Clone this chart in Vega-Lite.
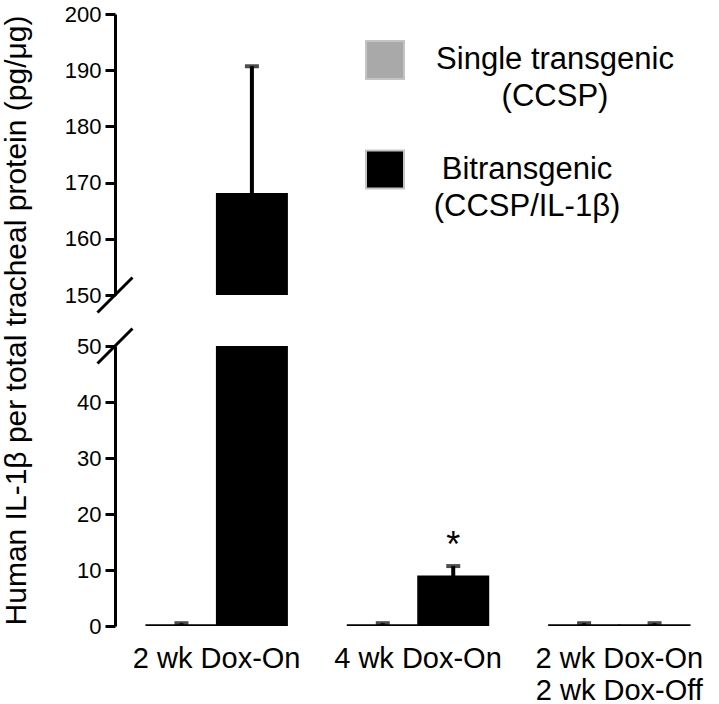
{
  "$schema": "https://vega.github.io/schema/vega-lite/v6.json",
  "padding": {"left": 0, "top": 3, "right": 0, "bottom": 0},
  "datasets": {
    "bars": [
      {"group": "2 wk Dox-On", "genotype": "Single transgenic (CCSP)", "value": 0.2, "upper": 0.5},
      {"group": "2 wk Dox-On", "genotype": "Bitransgenic (CCSP/IL-1β)", "value": 168, "upper": 190.7},
      {"group": "4 wk Dox-On", "genotype": "Single transgenic (CCSP)", "value": 0.2, "upper": 0.5},
      {"group": "4 wk Dox-On", "genotype": "Bitransgenic (CCSP/IL-1β)", "value": 8.9, "upper": 10.7, "sig": "*"},
      {"group": "2 wk Dox-On / 2 wk Dox-Off", "genotype": "Single transgenic (CCSP)", "value": 0.2, "upper": 0.5},
      {"group": "2 wk Dox-On / 2 wk Dox-Off", "genotype": "Bitransgenic (CCSP/IL-1β)", "value": 0.2, "upper": 0.5}
    ]
  },
  "bounds": "flush",
  "spacing": 51,
  "resolve": {"scale": {"y": "independent", "color": "independent"}, "legend": {"color": "independent"}},
  "vconcat": [
    {
      "width": 606,
      "height": 281,
      "layer": [
        {
          "data": {"name": "bars"},
          "mark": {"type": "bar", "clip": true, "stroke": "black", "strokeWidth": 1.5},
          "encoding": {
            "x": {"field": "group", "type": "nominal", "sort": ["2 wk Dox-On", "4 wk Dox-On", "2 wk Dox-On / 2 wk Dox-Off"], "scale": {"paddingInner": 0.3, "paddingOuter": 0.155}, "axis": null},
            "xOffset": {"field": "genotype", "type": "nominal", "sort": ["Single transgenic (CCSP)", "Bitransgenic (CCSP/IL-1β)"], "scale": {"paddingInner": 0, "paddingOuter": 0}},
            "y": {"field": "value", "type": "quantitative", "scale": {"domain": [150, 200], "nice": false, "zero": false}, "axis": {"title": null, "values": [150, 160, 170, 180, 190, 200]}},
            "color": {
              "field": "genotype", "type": "nominal",
              "scale": {"domain": ["Single transgenic (CCSP)", "Bitransgenic (CCSP/IL-1β)"], "range": ["#a9a9a9", "#000000"]},
              "legend": {
                "title": null,
                "orient": "none",
                "legendX": 250,
                "legendY": 26,
                "symbolType": "square",
                "symbolSize": 1444,
                "symbolStrokeColor": "#c4c4c4",
                "symbolStrokeWidth": 2,
                "labelFontSize": 31,
                "labelFont": "Liberation Sans",
                "labelColor": "black",
                "labelAlign": "center",
                "labelOffset": 136,
                "labelLimit": 0,
                "rowPadding": 34.5,
                "labelExpr": "split(replace(datum.label, ' (', '\\n('), '\\n')",
                "encode": {
                  "labels": {"update": {"dx": {"signal": "datum.value == 'Single transgenic (CCSP)' ? 14 : -14"}, "lineHeight": {"value": 37}}},
                  "symbols": {"update": {"stroke": {"value": "#c4c4c4"}, "strokeWidth": {"value": 2}}}
                }
              }
            }
          }
        },
        {
          "data": {"name": "bars"},
          "mark": {"type": "rule", "clip": true, "strokeWidth": 4, "color": "black"},
          "encoding": {
            "x": {"field": "group", "type": "nominal", "sort": ["2 wk Dox-On", "4 wk Dox-On", "2 wk Dox-On / 2 wk Dox-Off"]},
            "xOffset": {"field": "genotype", "type": "nominal", "sort": ["Single transgenic (CCSP)", "Bitransgenic (CCSP/IL-1β)"]},
            "y": {"field": "value", "type": "quantitative"},
            "y2": {"field": "upper"}
          }
        },
        {
          "data": {"name": "bars"},
          "mark": {"type": "tick", "clip": true, "orient": "horizontal", "size": 14, "thickness": 4, "color": "black"},
          "encoding": {
            "x": {"field": "group", "type": "nominal", "sort": ["2 wk Dox-On", "4 wk Dox-On", "2 wk Dox-On / 2 wk Dox-Off"]},
            "xOffset": {"field": "genotype", "type": "nominal", "sort": ["Single transgenic (CCSP)", "Bitransgenic (CCSP/IL-1β)"]},
            "y": {"field": "upper", "type": "quantitative"}
          }
        },
        {
          "data": {"values": [{"brk": 150}]},
          "mark": {"type": "point", "shape": "M -1 1 L 1 -1", "size": 1225, "filled": false, "stroke": "black", "strokeWidth": 3, "opacity": 1, "clip": false},
          "encoding": {
            "x": {"value": 0},
            "y": {"field": "brk", "type": "quantitative"}
          }
        }
      ]
    },
    {
      "width": 606,
      "height": 280,
      "layer": [
        {
          "data": {"name": "bars"},
          "mark": {"type": "bar", "clip": true, "stroke": "black", "strokeWidth": 1.5},
          "encoding": {
            "x": {"field": "group", "type": "nominal", "sort": ["2 wk Dox-On", "4 wk Dox-On", "2 wk Dox-On / 2 wk Dox-Off"], "scale": {"paddingInner": 0.3, "paddingOuter": 0.155},
              "axis": {"title": null, "domain": false, "ticks": false, "labelAngle": 0, "labelFontSize": 29, "labelPadding": 18, "labelLineHeight": 32, "labelLimit": 0, "labelExpr": "split(datum.label, ' / ')"}},
            "xOffset": {"field": "genotype", "type": "nominal", "sort": ["Single transgenic (CCSP)", "Bitransgenic (CCSP/IL-1β)"], "scale": {"paddingInner": 0, "paddingOuter": 0}},
            "y": {"field": "value", "type": "quantitative", "scale": {"domain": [0, 50], "nice": false},
              "axis": {"title": "Human IL-1β per total tracheal protein (pg/μg)", "values": [0, 10, 20, 30, 40, 50], "titleFontSize": 30, "titleFontWeight": "normal", "titleAngle": -90, "titleAlign": "center", "titleBaseline": "alphabetic", "titleX": -90, "titleY": -26}},
            "color": {
              "field": "genotype", "type": "nominal",
              "scale": {"domain": ["Single transgenic (CCSP)", "Bitransgenic (CCSP/IL-1β)"], "range": ["#a9a9a9", "#000000"]},
              "legend": null
            }
          }
        },
        {
          "data": {"name": "bars"},
          "mark": {"type": "rule", "clip": true, "strokeWidth": 4, "color": "black"},
          "encoding": {
            "x": {"field": "group", "type": "nominal", "sort": ["2 wk Dox-On", "4 wk Dox-On", "2 wk Dox-On / 2 wk Dox-Off"]},
            "xOffset": {"field": "genotype", "type": "nominal", "sort": ["Single transgenic (CCSP)", "Bitransgenic (CCSP/IL-1β)"]},
            "y": {"field": "value", "type": "quantitative"},
            "y2": {"field": "upper"}
          }
        },
        {
          "data": {"name": "bars"},
          "mark": {"type": "tick", "clip": true, "orient": "horizontal", "size": 14, "thickness": 4, "color": "black"},
          "encoding": {
            "x": {"field": "group", "type": "nominal", "sort": ["2 wk Dox-On", "4 wk Dox-On", "2 wk Dox-On / 2 wk Dox-Off"]},
            "xOffset": {"field": "genotype", "type": "nominal", "sort": ["Single transgenic (CCSP)", "Bitransgenic (CCSP/IL-1β)"]},
            "y": {"field": "upper", "type": "quantitative"}
          }
        },
        {
          "data": {"name": "bars"},
          "transform": [{"filter": "datum.sig"}],
          "mark": {"type": "text", "fontSize": 36, "baseline": "alphabetic", "dy": -9, "color": "black", "font": "Liberation Sans"},
          "encoding": {
            "x": {"field": "group", "type": "nominal", "sort": ["2 wk Dox-On", "4 wk Dox-On", "2 wk Dox-On / 2 wk Dox-Off"]},
            "xOffset": {"field": "genotype", "type": "nominal", "sort": ["Single transgenic (CCSP)", "Bitransgenic (CCSP/IL-1β)"]},
            "y": {"field": "upper", "type": "quantitative"},
            "text": {"field": "sig"}
          }
        },
        {
          "data": {"values": [{"brk": 50}]},
          "mark": {"type": "point", "shape": "M -1 1 L 1 -1", "size": 1225, "filled": false, "stroke": "black", "strokeWidth": 3, "opacity": 1, "clip": false},
          "encoding": {
            "x": {"value": 0},
            "y": {"field": "brk", "type": "quantitative"}
          }
        }
      ]
    }
  ],
  "config": {
    "font": "Liberation Sans",
    "view": {"stroke": null},
    "axis": {"grid": false, "domainColor": "black", "domainWidth": 3, "tickColor": "black", "tickWidth": 3, "tickSize": 10, "labelColor": "black", "titleColor": "black", "labelFontSize": 22, "labelPadding": 4, "labelFont": "Liberation Sans", "titleFont": "Liberation Sans"},
    "legend": {"padding": 0}
  }
}
